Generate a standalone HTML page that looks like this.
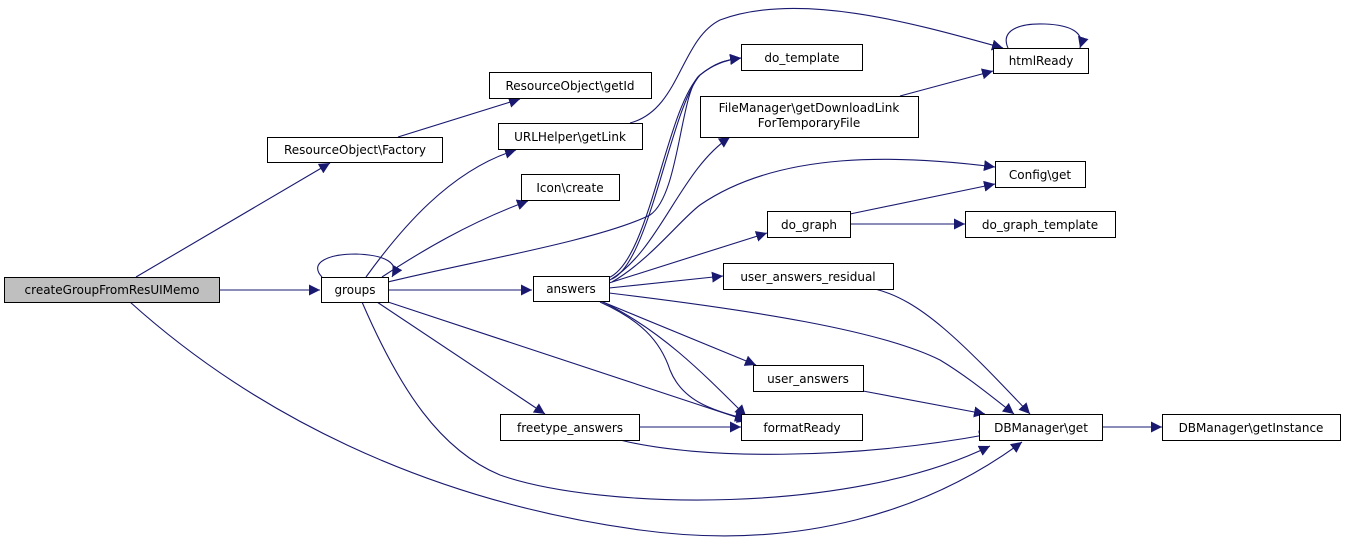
<!DOCTYPE html>
<html><head><meta charset="utf-8"><style>
html,body{margin:0;padding:0;background:#fff;}
svg{display:block;}
text{font-family:"DejaVu Sans","Liberation Sans",sans-serif;font-size:12px;fill:#000;}
</style></head><body>
<svg width="1347" height="544" viewBox="0 0 1347 544" xmlns="http://www.w3.org/2000/svg">
<defs>
<marker id="a" viewBox="0 0 10 10" refX="10" refY="5" markerWidth="11" markerHeight="11" markerUnits="userSpaceOnUse" orient="auto">
<path d="M0,0 L10,5 L0,10 z" fill="#191970"/>
</marker>
</defs>
<g fill="none" stroke="#191970" stroke-width="1.1" marker-end="url(#a)">
<path d="M136,277 L330,163"/>
<path d="M398,137 L520,99"/>
<path d="M219,290 L320,290"/>
<path d="M130,302 C250,410 420,500 640,530 C800,552 930,510 1022,442"/>
<path d="M322,277 C308,262 330,254 356,254 C385,255 400,263 392,277"/>
<path d="M366,277 C400,230 450,170 516,150"/>
<path d="M382,277 C420,252 470,222 528,201"/>
<path d="M388,282 C470,262 600,240 650,215 C680,195 680,90 700,75 C712,65 725,60 741,58"/>
<path d="M388,290 L532,290"/>
<path d="M388,302 L748,421"/>
<path d="M377,302 L545,414"/>
<path d="M362,302 C400,390 440,450 500,475 C600,510 850,515 990,446"/>
<path d="M630,123 C680,110 680,40 720,20 C800,-10 920,25 1003,48"/>
<path d="M608,278 C650,262 665,110 700,75 C715,63 725,60 741,58"/>
<path d="M612,279 C650,262 670,110 700,75 C715,63 725,60 741,58"/>
<path d="M610,280 C660,250 680,170 730,137"/>
<path d="M612,282 C650,260 680,220 700,205 C780,150 900,155 995,167"/>
<path d="M609,283 L767,233"/>
<path d="M609,288 L723,276"/>
<path d="M609,293 C750,310 880,330 940,360 C965,375 990,395 1014,414"/>
<path d="M598,300 L756,365"/>
<path d="M600,302 C640,320 660,340 670,370 C682,400 710,410 746,419"/>
<path d="M603,302 C660,330 700,370 746,416"/>
<path d="M900,96 L993,71"/>
<path d="M1008,48 C1000,30 1020,23 1045,24 C1070,25 1085,32 1080,48"/>
<path d="M850,214 L995,184"/>
<path d="M850,224 L965,224"/>
<path d="M875,289 C920,300 960,340 1030,414"/>
<path d="M863,391 L985,414"/>
<path d="M639,427 L741,427"/>
<path d="M620,440 C700,460 850,460 990,434"/>
<path d="M1102,427 L1162,427"/>
</g>
<g stroke="#000" stroke-width="1" fill="#fff">
<rect x="4.5" y="277.5" width="215" height="25" fill="#bfbfbf"/>
<rect x="267.5" y="137.5" width="175" height="25"/>
<rect x="489.5" y="72.5" width="162" height="26"/>
<rect x="498.5" y="123.5" width="144" height="26"/>
<rect x="521.5" y="174.5" width="98" height="26"/>
<rect x="321.5" y="277.5" width="67" height="25"/>
<rect x="533.5" y="276.5" width="76" height="25"/>
<rect x="500.5" y="414.5" width="139" height="26"/>
<rect x="741.5" y="44.5" width="121" height="26"/>
<rect x="700.5" y="96.5" width="218" height="41"/>
<rect x="767.5" y="211.5" width="83" height="26"/>
<rect x="723.5" y="263.5" width="170" height="26"/>
<rect x="753.5" y="365.5" width="110" height="26"/>
<rect x="741.5" y="414.5" width="121" height="26"/>
<rect x="993.5" y="48.5" width="95" height="25"/>
<rect x="995.5" y="161.5" width="90" height="26"/>
<rect x="965.5" y="211.5" width="150" height="26"/>
<rect x="979.5" y="414.5" width="123" height="26"/>
<rect x="1162.5" y="414.5" width="178" height="26"/>
</g>
<g text-anchor="middle">
<text x="112" y="294">createGroupFromResUIMemo</text>
<text x="355" y="154">ResourceObject\Factory</text>
<text x="570" y="90">ResourceObject\getId</text>
<text x="570" y="141">URLHelper\getLink</text>
<text x="570" y="192">Icon\create</text>
<text x="355" y="294">groups</text>
<text x="571" y="293">answers</text>
<text x="570" y="432">freetype_answers</text>
<text x="802" y="62">do_template</text>
<text x="809" y="112">FileManager\getDownloadLink</text>
<text x="809" y="127">ForTemporaryFile</text>
<text x="809" y="229">do_graph</text>
<text x="808" y="281">user_answers_residual</text>
<text x="808" y="383">user_answers</text>
<text x="802" y="432">formatReady</text>
<text x="1041" y="65">htmlReady</text>
<text x="1040" y="179">Config\get</text>
<text x="1040" y="229">do_graph_template</text>
<text x="1041" y="432">DBManager\get</text>
<text x="1251" y="432">DBManager\getInstance</text>
</g>
</svg>
</body></html>
